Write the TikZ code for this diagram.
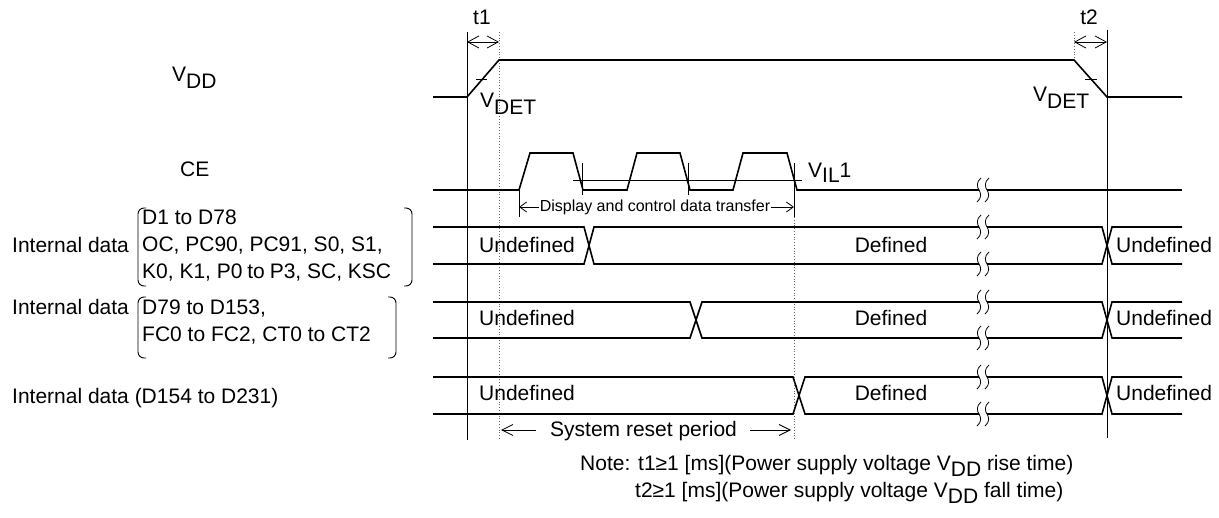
\documentclass[tikz,border=0pt]{standalone}
\usepackage{fontspec}
\setmainfont{Liberation Sans}
\usetikzlibrary{arrows.meta}
\newcommand{\lowr}[2][7pt]{\raisebox{-#1}{#2}}
\newcommand{\brkmark}[1]{%
  \foreach \xx in {979,987}{%
    \draw[line width=0.8pt] (\xx+2,#1-12) .. controls (\xx-3,#1-8) and (\xx-2,#1-3) .. (\xx,#1)
      .. controls (\xx+2,#1+3) and (\xx+3,#1+8) .. (\xx-2,#1+12);}}
\newcommand{\busrow}[4]{% top, bottom, x1, x2
  \draw[sig] (433,#1) -- (#3,#1) -- (#4,#2) -- (979,#2);
  \draw[sig] (987,#2) -- (1102,#2) -- (1112,#1) -- (1182,#1);
  \draw[sig] (433,#2) -- (#3,#2) -- (#4,#1) -- (979,#1);
  \draw[sig] (987,#1) -- (1102,#1) -- (1112,#2) -- (1182,#2);
  \brkmark{#1}\brkmark{#2}}
\begin{document}
\begin{tikzpicture}[x=1pt,y=-1pt,
  sig/.style={line width=1.6pt, line join=miter},
  thinl/.style={line width=0.9pt},
  dotl/.style={line width=0.8pt, dotted, black!60},
  lbl/.style={inner sep=0pt, anchor=base west, font=\fontsize{21}{25}\selectfont},
  lblc/.style={lbl, anchor=base},
  smalltxt/.style={inner sep=1pt, font=\fontsize{16}{19}\selectfont, fill=white},
  barb/.style={{Straight Barb[length=11pt,width=12pt]}-{Straight Barb[length=11pt,width=12pt]}, line width=0.8pt},
  sbarb/.style={{Straight Barb[length=7pt,width=10pt]}-{Straight Barb[length=7pt,width=10pt]}, line width=0.8pt},
  rbarb/.style={-{Straight Barb[length=11pt,width=11pt]}, line width=0.8pt}
]
\useasboundingbox (0,0) rectangle (1219,518);

% vertical reference lines
\draw[thinl] (467,32) -- (467,440);
\draw[thinl] (1107,30) -- (1107,438);
\draw[dotl] (499,32) -- (499,440);
\draw[dotl] (1074,32) -- (1074,60);
\draw[dotl] (794,217) -- (794,440);

% t1, t2
\coordinate (t1a) at (467,42); \coordinate (t1b) at (499,42);
\coordinate (t2a) at (1074,42); \coordinate (t2b) at (1107,42);
\draw[barb] (t1a) -- (t1b);
\draw[barb] (t2a) -- (t2b);
\node[lblc] (t1) at (482,25) {t1};
\node[lblc] (t2) at (1089,25) {t2};

% VDD
\draw[sig] (433,97) -- (467,97) -- (499,60) -- (1074,60) -- (1107,97) -- (1182,97);
\draw[thinl] (476,79) -- (487,79);
\draw[thinl] (1085,79) -- (1097,79);
\node[lbl] (vdet1) at (480,108) {V\lowr{DET}};
\node[lbl] (vdet2) at (1033,102) {V\lowr{DET}};
\node[lbl] (vdd) at (172,82) {V\lowr{DD}};

% CE
\node[lbl] (ce) at (180,177) {CE};
\draw[sig] (433,190) -- (519,190) -- (530,153) -- (573,153) -- (583,190) -- (627,190)
  -- (637,153) -- (680,153) -- (690,190) -- (733,190) -- (743,153) -- (787,153)
  -- (797,190) -- (979,190);
\draw[sig] (987,190) -- (1182,190);
\brkmark{190}
\draw[thinl] (573,180) -- (802,180);
\node[lbl] (vil) at (808,178) {V\lowr[5pt]{IL}1};
\draw[thinl] (582,163) -- (582,195);
\draw[thinl] (688,163) -- (688,195);
\draw[thinl] (794,163) -- (794,217);
\draw[thinl] (519,190) -- (519,217);
\coordinate (dta) at (519,207); \coordinate (dtb) at (794,207);
\draw[sbarb] (dta) -- (dtb);
\node[smalltxt] (dtxt) at (655,207) {Display and control data transfer};

% data rows
\busrow{227}{264}{584}{594}
\busrow{302}{338}{690}{702}
\busrow{377}{414}{793}{805}

\foreach \b/\n in {253/a,326/b,401/c}{
  \node[lbl] (u\n) at (479,\b) {Undefined};
  \node[lblc] (d\n) at (891,\b) {Defined};
  \node[lbl] (r\n) at (1116,\b) {Undefined};
}

% left labels
\node[lbl] (id1) at (12,253) {Internal data};
\node[lbl] (l1a) at (142,225) {D1 to D78};
\node[lbl] (l1b) at (142,252) {OC, PC90, PC91, S0, S1,};
\node[lbl] (l1c) at (142,279) {K0, K1, P0\kern-1pt{} to\kern-1pt{} P3, SC, KSC};
\draw[thinl, rounded corners=6pt] (146,208) -- (138,208) -- (138,286) -- (146,286);
\draw[thinl, rounded corners=6pt] (404,208) -- (412,208) -- (412,286) -- (404,286);

\node[lbl] (id2) at (12,315) {Internal data};
\node[lbl] (l2a) at (142,315) {D79 to D153,};
\node[lbl] (l2b) at (142,342) {FC0 to FC2, CT0 to CT2};
\draw[thinl, rounded corners=6pt] (146,297) -- (138,297) -- (138,358) -- (146,358);
\draw[thinl, rounded corners=6pt] (388,297) -- (396,297) -- (396,358) -- (388,358);

\node[lbl] (id3) at (12,404) {Internal data (D154 to D231)};

% system reset period
\coordinate (sra) at (536,430); \coordinate (srb) at (501,430);
\coordinate (src) at (750,430); \coordinate (srd) at (791,430);
\draw[rbarb] (sra) -- (srb);
\draw[rbarb] (src) -- (srd);
\node[lbl] (srt) at (550,437) {System reset period};

% notes
\node[lbl] (n1) at (580,471) {Note: t1≥1 [ms](Power supply voltage V\lowr[6pt]{DD} rise time)};
\node[lbl] (n2) at (635,497) {t2≥1 [ms](Power supply voltage V\lowr[6pt]{DD} fall time)};
\end{tikzpicture}
\end{document}
